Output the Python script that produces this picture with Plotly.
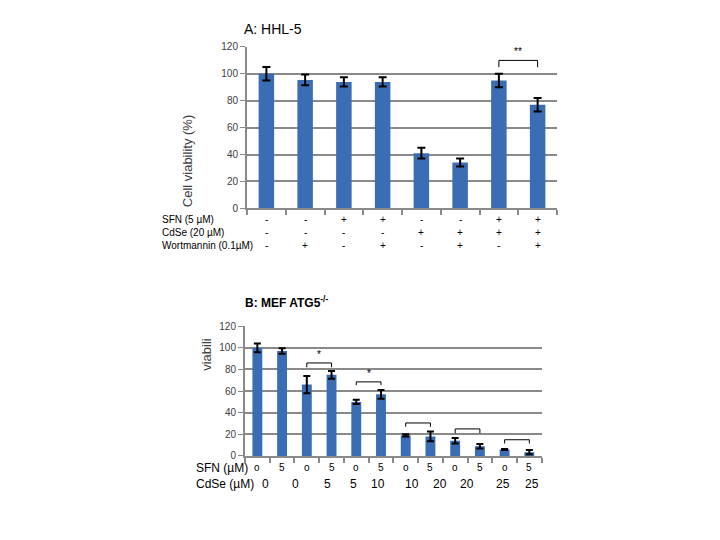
import plotly.graph_objects as go

# Panel A: HHL-5
a_vals = [100, 95.5, 94, 94, 41, 34, 95, 77]
a_err = [5, 4, 3.5, 3.5, 4, 3, 5, 5]
a_sfn = ['-', '-', '+', '+', '-', '-', '+', '+']
a_cdse = ['-', '-', '-', '-', '+', '+', '+', '+']
a_wort = ['-', '+', '-', '+', '-', '+', '-', '+']
a_rows = ['SFN (5 µM)', 'CdSe (20 µM)', 'Wortmannin (0.1µM)']

# Panel B: MEF ATG5-/-
b_vals = [100, 97, 66, 75, 50, 57, 19, 18, 14, 9, 6, 3.5]
b_err = [4, 2.5, 8, 3.5, 2, 4, 1, 4.5, 2.5, 2, 0.5, 2]
b_sfn = ['o', '5', 'o', '5', 'o', '5', 'o', '5', 'o', '5', 'o', '5']
b_cdse = ['0', '0', '5', '5', '10', '10', '20', '20', '25', '25']
b_cdse_pos = [0.31, 1.56, 2.82, 3.87, 4.88, 6.27, 7.38, 8.48, 9.94, 11.1]

# significance brackets: (left bar, right bar, top, leg end, label)
a_brackets = [(6, 7, 110, 105, '**')]
b_brackets = [(2, 3, 86, 82, '*'), (4, 5, 68.5, 65.5, '*'),
              (6, 7, 30.5, 27, ''), (8, 9, 25, 21, ''), (10, 11, 15, 11.5, '')]

BAR = '#3a6db4'
GRID = '#8a8a8a'
TXT = '#404040'
OFF = 8  # page body margin


def px(x):
    return (x - OFF) / 720


def py(y):
    return 1 - (y - OFF) / 540


fig = go.Figure()

fig.add_trace(go.Bar(
    x=list(range(len(a_vals))), y=a_vals, marker=dict(color=BAR, line=dict(width=0)),
    error_y=dict(type='data', array=a_err, color='black', thickness=2, width=4),
    xaxis='x', yaxis='y', showlegend=False, width=0.4
))
fig.add_trace(go.Bar(
    x=list(range(len(b_vals))), y=b_vals, marker=dict(color=BAR, line=dict(width=0)),
    error_y=dict(type='data', array=b_err, color='black', thickness=2, width=3.5),
    xaxis='x2', yaxis='y2', showlegend=False, width=0.4
))

yax = dict(range=[0, 120], dtick=20, showgrid=True, gridcolor=GRID, gridwidth=2,
           showline=True, linecolor=GRID, linewidth=2, ticks='outside', ticklen=5,
           tickcolor=GRID, tickfont=dict(family='Liberation Sans', size=10, color=TXT),
           zeroline=False, fixedrange=True)
xax = dict(showticklabels=False, ticks='outside', ticklen=5, tickcolor=GRID, tickwidth=2,
           showline=True, linecolor=GRID, linewidth=2, showgrid=False, zeroline=False)

fig.update_layout(
    width=720, height=540, margin=dict(l=0, r=0, t=0, b=0),
    plot_bgcolor='white', paper_bgcolor='white',
    xaxis=dict(domain=[px(247), px(557)], range=[-0.5, 7.5], anchor='y',
               tickvals=[i - 0.5 for i in range(9)], **xax),
    yaxis=dict(domain=[py(206.7), py(41.7)], anchor='x', **yax),
    xaxis2=dict(domain=[px(245), px(541.7)], range=[-0.5, 11.5], anchor='y2',
                tickvals=[i - 0.5 for i in range(13)], **xax),
    yaxis2=dict(domain=[py(460), py(327.3)], anchor='x2', **yax),
)

small = dict(family='Liberation Sans', size=10, color='black')
mid = dict(family='Liberation Sans', size=12, color='black')
ann = []

# panel A labels
ann.append(dict(text='A: HHL-5', x=px(242), y=py(23), xref='paper', yref='paper',
                showarrow=False, xanchor='left', yanchor='middle',
                font=dict(family='Liberation Sans', size=14, color='black')))
ann.append(dict(text='Cell viability (%)', x=px(178), y=py(110), xref='paper',
                yref='paper', showarrow=False, textangle=-90,
                font=dict(family='Liberation Sans', size=13, color=TXT)))
for row, (name, vals) in enumerate(zip(a_rows, [a_sfn, a_cdse, a_wort])):
    ypx = 218 + row * 13.5
    ann.append(dict(text=name, x=px(160), y=py(ypx), xref='paper', yref='paper',
                    showarrow=False, xanchor='left', yanchor='middle', font=small))
    for i, v in enumerate(vals):
        ann.append(dict(text=v, x=i, y=py(ypx), xref='x', yref='paper',
                        showarrow=False, yanchor='middle', font=small))

# panel B labels
ann.append(dict(text='<b>B: MEF ATG5<sup>-/-</sup></b>', x=px(243), y=py(303),
                xref='paper', yref='paper', showarrow=False, xanchor='left',
                yanchor='middle', font=mid))
ann.append(dict(text='viabili', x=px(197), y=py(375), xref='paper',
                yref='paper', showarrow=False, textangle=-90,
                font=dict(family='Liberation Sans', size=13, color=TXT)))
for i, v in enumerate(b_sfn):
    ann.append(dict(text=v, x=i, y=py(472), xref='x2', yref='paper',
                    showarrow=False, yanchor='middle', font=small))
for p, v in zip(b_cdse_pos, b_cdse):
    ann.append(dict(text=v, x=p, y=py(489), xref='x2', yref='paper',
                    showarrow=False, yanchor='middle', font=mid))
for txt, ypx in [('SFN (µM)', 472), ('CdSe (µM)', 489)]:
    ann.append(dict(text=txt, x=px(194), y=py(ypx), xref='paper', yref='paper',
                    showarrow=False, xanchor='left', yanchor='middle', font=mid))

shapes = []
for axes, brackets in [(('x', 'y'), a_brackets), (('x2', 'y2'), b_brackets)]:
    for i, j, top, leg, label in brackets:
        shapes.append(dict(type='path', xref=axes[0], yref=axes[1],
                           path=f'M {i} {leg} L {i} {top} L {j} {top} L {j} {leg}',
                           line=dict(color='black', width=1)))
        if label:
            ann.append(dict(text=label, x=(i + j) / 2, y=top, xref=axes[0], yref=axes[1],
                            showarrow=False, yanchor='bottom', yshift=1, font=small))

fig.update_layout(annotations=ann, shapes=shapes)
fig.write_html("out.html")
